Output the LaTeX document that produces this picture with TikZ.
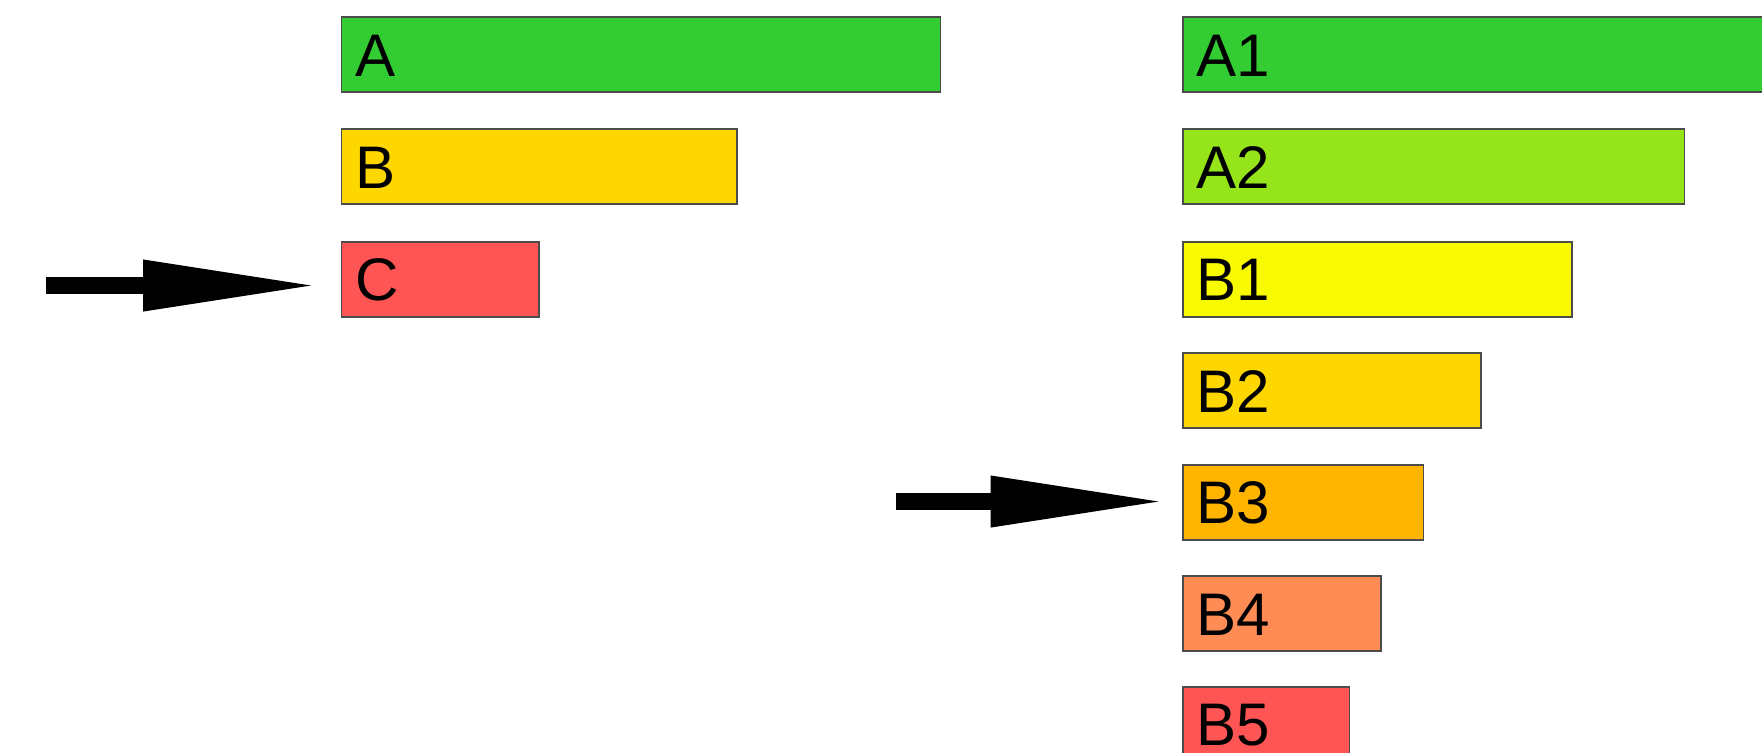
\documentclass[tikz,border=0pt]{standalone}
\usepackage{fontspec}
\setmainfont{Liberation Sans}
\usetikzlibrary{arrows.meta}

\definecolor{greenA}{RGB}{51,204,51}
\definecolor{greenA2}{RGB}{150,228,26}
\definecolor{yellowB1}{RGB}{247,250,0}
\definecolor{goldB}{RGB}{255,215,0}
\definecolor{orangeB3}{RGB}{255,180,0}
\definecolor{orangeB4}{RGB}{255,139,85}
\definecolor{redC}{RGB}{255,85,85}

\newcommand{\barfont}{\fontsize{17.1pt}{20pt}\selectfont}

\tikzset{
  bar/.style={draw=black!70, line width=0.5pt, anchor=west, minimum height=0.75cm,
    inner xsep=0.14cm, inner ysep=0pt, text height=0.43cm, text depth=0pt,
    align=left, font=\barfont},
  pointer/.style={line width=0.167cm, -{Triangle[length=1.77cm,width=0.47cm]}}
}

\begin{document}
\begin{tikzpicture}
        \useasboundingbox[fill=white] (0,0) rectangle (17.62,-7.52);
        \clip (0,0) rectangle (17.62,-7.52);
        % left column
        \node[bar,fill=greenA,text width=5.71cm] (a) at (3.405,-0.545) {A};
        \node[bar,fill=goldB,text width=3.675cm] (b) at (3.405,-1.668) {B};
        \node[bar,fill=redC,text width=1.695cm] (c) at (3.405,-2.793) {C};
        % right column
        \node[bar,fill=greenA,text width=6.2cm] (a1) at (11.82,-0.545) {A1};
        \node[bar,fill=greenA2,text width=4.735cm] (a2) at (11.82,-1.668) {A2};
        \node[bar,fill=yellowB1,text width=3.61cm] (b1) at (11.82,-2.793) {B1};
        \node[bar,fill=goldB,text width=2.70cm] (b2) at (11.82,-3.908) {B2};
        \node[bar,fill=orangeB3,text width=2.125cm] (b3) at (11.82,-5.023) {B3};
        \node[bar,fill=orangeB4,text width=1.70cm] (b4) at (11.82,-6.138) {B4};
        \node[bar,fill=redC,text width=1.385cm] (b5) at (11.82,-7.243) {B5};
        % arrows
        \coordinate (s1) at (0.46,-2.855);
        \coordinate (s2) at (8.956,-5.015);
        \draw[pointer,shorten >=0.205cm] (s1) -- (s1 -| c.west);
        \draw[pointer,shorten >=0.145cm] (s2) -- (s2 -| b3.west);
      \end{tikzpicture}
\end{document}
